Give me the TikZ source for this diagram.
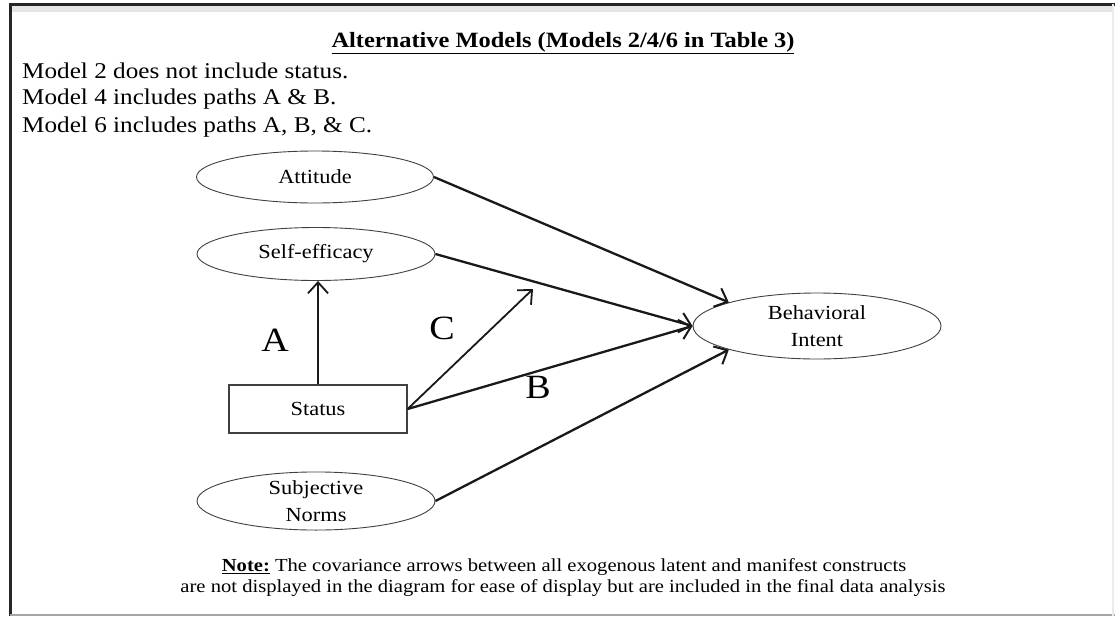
\documentclass[tikz,border=0pt]{standalone}
\usepackage{fontspec}
\setmainfont{Liberation Serif}[FakeStretch=1.12]
\usetikzlibrary{shapes.geometric,arrows.meta}
\tikzset{
  latent/.style={draw=black!75, line width=0.9pt, ellipse, inner sep=0pt, align=center,
     font=\fontsize{20}{27}\selectfont, text=black},
  manifest/.style={draw=black!75, line width=1.2pt, rectangle, inner sep=0pt,
     font=\fontsize{20}{24}\selectfont, text=black},
  path/.style={line width=2.3pt, draw=black!90, -{Straight Barb[length=11pt,width=20pt,line width=2pt]}},
  thinpath/.style={line width=1.8pt, draw=black!90, -{Straight Barb[length=11pt,width=20pt,line width=1.8pt]}},
  lbl/.style={font=\fontsize{34}{34}\selectfont, inner sep=0pt, text=black},
  txt/.style={font=\fontsize{22.5}{28}\selectfont, anchor=west, inner sep=0pt},
}
\begin{document}
\begin{tikzpicture}[x=1pt,y=-1pt]
\useasboundingbox (0,0) rectangle (1115,616);
\fill[white] (0,0) rectangle (1115,616);
% frame
\draw[black!10, line width=6pt] (10,9) -- (1113,9);
\draw[black!85, line width=3pt] (10,4) -- (1115,4);
\draw[black!85, line width=3pt] (10,2.5) -- (10,616);
\draw[black!35, line width=2pt] (10,615) -- (1115,615);
\draw[black!8, line width=2pt] (1113,4) -- (1113,616);

% title and model lines
\node[font=\fontsize{21.8}{26}\selectfont\bfseries, inner sep=0pt] (title) at (563,43) {\underline{Alternative Models (Models 2/4/6 in Table 3)}};
\node[txt] (m2) at (22,71) {Model 2 does not include status.};
\node[txt] (m4) at (22,99) {Model 4 includes paths A \& B.};
\node[txt] (m6) at (22,127) {Model 6 includes paths A, B, \& C.};

% nodes
\node[latent, minimum width=237pt, minimum height=52pt] (att) at (315,177) {Attitude};
\node[latent, minimum width=238pt, minimum height=53pt] (se) at (316,254) {Self-efficacy};
\node[manifest, minimum width=178pt, minimum height=48pt] (st) at (318,409) {Status};
\node[latent, minimum width=238pt, minimum height=58pt] (sn) at (316,501) {Subjective\\Norms};
\node[latent, minimum width=248pt, minimum height=66pt] (bi) at (817,326) {Behavioral\\Intent};
\coordinate (ctip) at (533,289);

% paths
\draw[path] (att.east) -- (bi.165);
\draw[path] (se.east) -- (bi.west);
\draw[path] (st.east) -- (bi.west);
\draw[path] (sn.east) -- (bi.195);
\draw[thinpath] (st.north) -- (st.north |- se.south);
\draw[thinpath] (st.east) -- (ctip);

% path labels
\node[lbl] (la) at (275,340) {A};
\node[lbl] (lc) at (442,328) {C};
\node[lbl] (lb) at (538,387) {B};

% note
\node[font=\fontsize{18.4}{22}\selectfont, inner sep=0pt] (n1) at (564,567) {\underline{\textbf{Note:}} The covariance arrows between all exogenous latent and manifest constructs};
\node[font=\fontsize{18.4}{22}\selectfont, inner sep=0pt] (n2) at (563,588) {are not displayed in the diagram for ease of display but are included in the final data analysis};
\end{tikzpicture}
\end{document}
